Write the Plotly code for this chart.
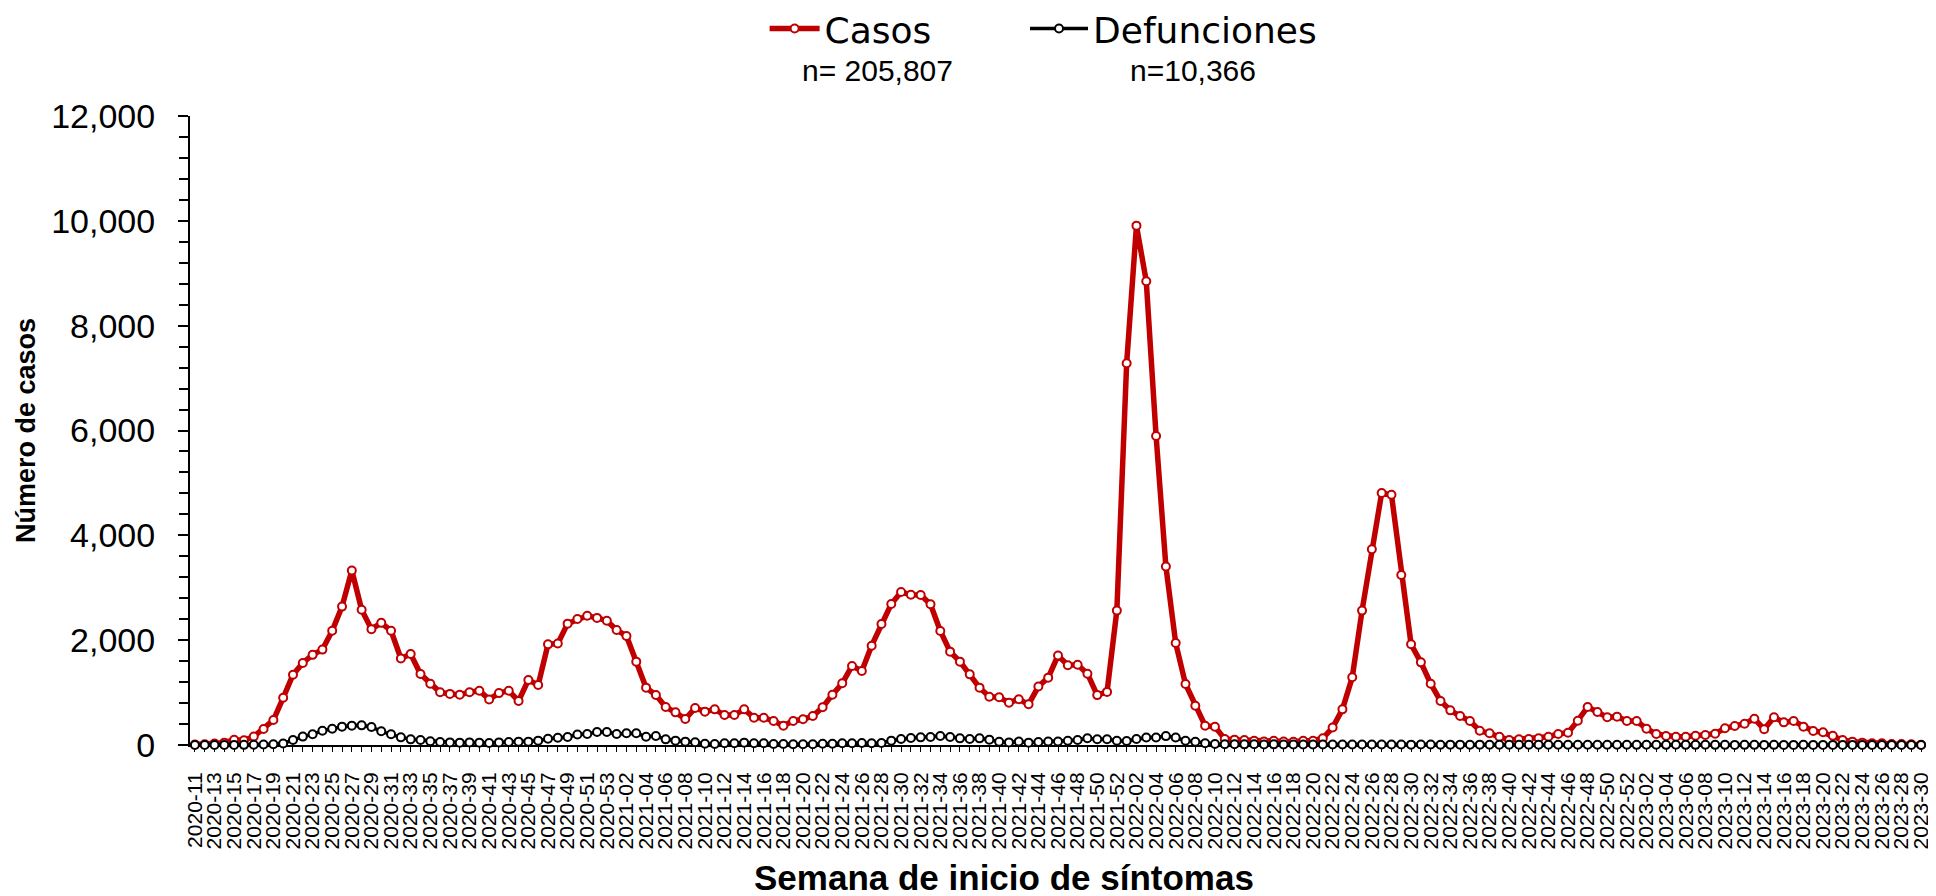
import plotly.graph_objects as go

# Week categories (epidemiological week of symptom onset)
weeks = ([f"2020-{w:02d}" for w in range(11, 54)] +
         [f"2021-{w:02d}" for w in range(1, 53)] +
         [f"2022-{w:02d}" for w in range(1, 53)] +
         [f"2023-{w:02d}" for w in range(1, 31)])

casos = [
    10, 15, 30, 45, 100, 90, 160, 305, 477, 900,
    1340, 1565, 1720, 1820, 2180, 2640, 3330, 2580, 2210, 2330,
    2180, 1650, 1735, 1355, 1170, 1005, 975, 960, 1005, 1036,
    870, 990, 1036, 840, 1240, 1145, 1920, 1935, 2315, 2404,
    2465, 2425, 2372, 2194, 2080, 1590, 1094, 954, 725, 623,
    496, 706, 636, 680, 572, 572, 680, 521, 521, 458,
    369, 458, 490, 553, 719, 960, 1177, 1507, 1412, 1895,
    2309, 2690, 2919, 2868, 2862, 2684, 2175, 1781, 1590, 1348,
    1094, 922, 912, 808, 874, 776, 1115, 1285, 1707, 1523,
    1530, 1360, 952, 1013, 2564, 7283, 9908, 8847, 5896, 3407,
    1945, 1163, 748, 367, 347, 116, 102, 95, 82, 68,
    82, 68, 61, 82, 82, 129, 333, 680, 1292, 2564,
    3733, 4808, 4774, 3244, 1921, 1577, 1170, 840, 661, 553,
    458, 273, 223, 159, 95, 108, 114, 127, 159, 210,
    235, 464, 725, 630, 528, 541, 458, 458, 312, 210,
    172, 159, 159, 178, 191, 216, 318, 363, 407, 502,
    299, 528, 432, 458, 350, 267, 242, 178, 95, 64,
    45, 32, 32, 19, 19, 13, 6,
]

defunciones = [
    0, 0, 1, 1, 2, 3, 5, 8, 15, 30,
    95, 160, 204, 273, 311, 350, 369, 375, 343, 261,
    204, 146, 108, 95, 70, 57, 50, 45, 50, 45,
    38, 50, 57, 64, 64, 83, 120, 137, 152, 200,
    210, 248, 248, 210, 223, 223, 159, 172, 108, 83,
    64, 51, 25, 19, 32, 32, 45, 32, 32, 19,
    19, 13, 13, 13, 25, 25, 32, 32, 38, 32,
    38, 83, 115, 134, 146, 153, 172, 153, 127, 115,
    127, 102, 60, 50, 65, 45, 55, 65, 68, 82,
    95, 129, 109, 109, 82, 75, 116, 143, 143, 170,
    143, 82, 61, 34, 20, 15, 14, 12, 13, 11,
    12, 10, 9, 11, 10, 9, 10, 8, 9, 10,
    9, 11, 8, 9, 7, 8, 8, 6, 7, 7,
    6, 7, 5, 6, 6, 5, 6, 5, 4, 5,
    5, 4, 5, 4, 5, 4, 4, 3, 4, 4,
    3, 4, 3, 3, 4, 3, 3, 2, 3, 3,
    2, 3, 2, 2, 3, 2, 2, 2, 1, 2,
    2, 1, 1, 2, 1, 1, 1,
]

tick_labels = [w if i % 2 == 0 else "" for i, w in enumerate(weeks)]
n_labels = ["n= 205,807", "n=10,366"]
x_title = "Semana de inicio de síntomas"
y_title = "Número de casos"

RED = "#C00000"
BLACK = "#000000"

fig = go.Figure()
fig.add_trace(go.Scatter(
    x=weeks, y=casos, name="Casos", mode="lines+markers",
    line=dict(color=RED, width=5.5),
    marker=dict(symbol="circle", size=8, color="white", line=dict(color=RED, width=2)),
    cliponaxis=False, legend="legend",
))
fig.add_trace(go.Scatter(
    x=weeks, y=defunciones, name="Defunciones", mode="lines+markers",
    line=dict(color=BLACK, width=3.5),
    marker=dict(symbol="circle", size=8, color="white", line=dict(color=BLACK, width=2)),
    cliponaxis=False, legend="legend2",
))

legend_font = dict(family="DejaVu Sans", size=36, color="black")

fig.update_layout(
    width=1936, height=896,
    margin=dict(l=182, r=18, t=108, b=159, autoexpand=False),
    plot_bgcolor="white", paper_bgcolor="white",
    font=dict(family="Liberation Sans", color="black"),
    showlegend=True,
    legend=dict(
        orientation="h", x=0.331, xanchor="left", y=1.139, yanchor="middle",
        font=legend_font, bgcolor="rgba(0,0,0,0)", itemwidth=50,
    ),
    legend2=dict(
        orientation="h", x=0.481, xanchor="left", y=1.139, yanchor="middle",
        font=legend_font, bgcolor="rgba(0,0,0,0)", itemwidth=58,
    ),
    annotations=[
        dict(text=n_labels[0], x=0.396, y=1.072, xref="paper", yref="paper",
             xanchor="center", yanchor="middle", showarrow=False,
             font=dict(family="Liberation Sans", size=30, color="black")),
        dict(text=n_labels[1], x=0.578, y=1.072, xref="paper", yref="paper",
             xanchor="center", yanchor="middle", showarrow=False,
             font=dict(family="Liberation Sans", size=30, color="black")),
        dict(text=f"<b>{x_title}</b>", x=0.469, y=-0.210, xref="paper", yref="paper",
             xanchor="center", yanchor="middle", showarrow=False,
             font=dict(family="Liberation Sans", size=35, color="black")),
    ],
)

fig.update_xaxes(
    type="category", categoryorder="array", categoryarray=weeks,
    range=[-0.5, len(weeks) - 0.5],
    tickmode="array", tickvals=weeks, ticktext=tick_labels,
    tickangle=-90, ticks="outside", ticklen=5, tickwidth=1, tickcolor="black",
    ticklabelstandoff=12,
    tickfont=dict(family="Liberation Sans", size=21, color="black"),
    showline=True, linecolor="black", linewidth=2, showgrid=False, zeroline=False,
    layer="below traces",
)

fig.update_yaxes(
    range=[0, 12000], tickmode="linear", tick0=0, dtick=2000, tickformat=",d",
    ticks="outside", ticklen=10, tickwidth=2, tickcolor="black",
    ticklabelstandoff=16,
    minor=dict(dtick=400, tick0=0, ticks="outside", ticklen=9, tickwidth=2,
               tickcolor="black", showgrid=False),
    tickfont=dict(family="Liberation Sans", size=34, color="black"),
    showline=True, linecolor="black", linewidth=2, showgrid=False, zeroline=False,
    layer="below traces",
    title=dict(text=y_title, standoff=8,
               font=dict(family="Liberation Sans", size=27, color="black", weight="bold")),
)

fig.write_html("out.html")
